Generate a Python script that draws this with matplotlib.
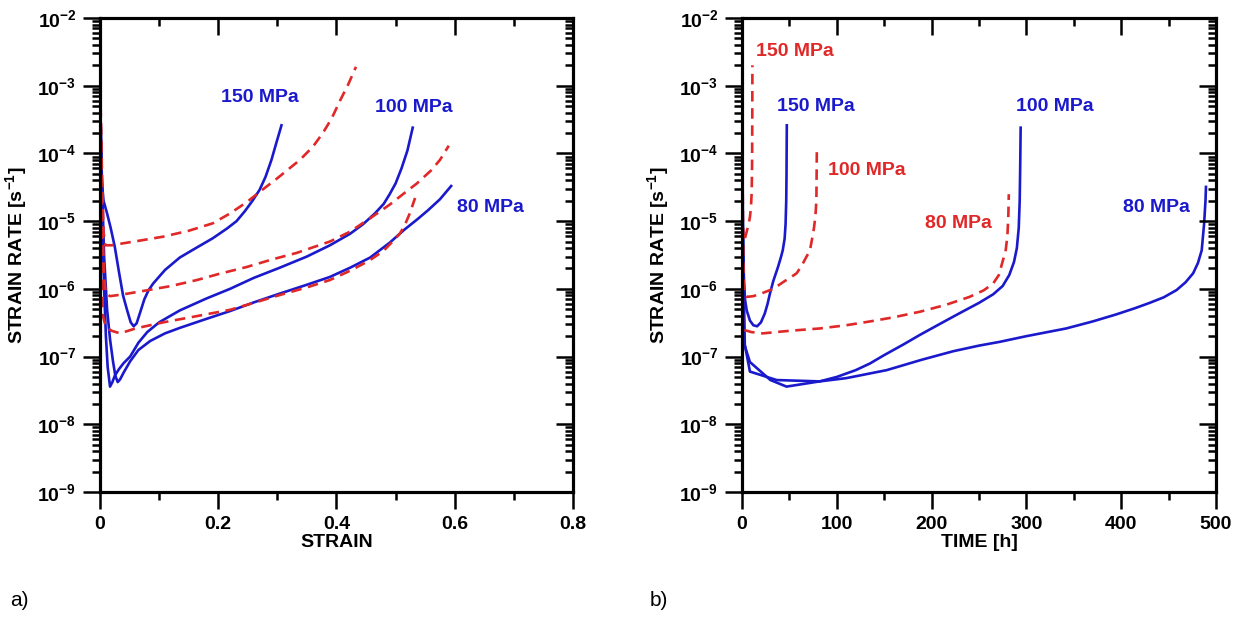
import numpy as np
import matplotlib
matplotlib.use('Agg')
import matplotlib.pyplot as plt
from matplotlib.ticker import LogLocator, NullFormatter, MultipleLocator, FuncFormatter

# --- data ---
# a) strain rate vs strain
b150_strain = [0.0, 0.001, 0.003, 0.006, 0.012, 0.018, 0.025, 0.032, 0.039, 0.046, 0.052, 0.057, 0.062, 0.068,
               0.075, 0.082, 0.09, 0.11, 0.135, 0.16, 0.191, 0.215, 0.231, 0.245, 0.258, 0.27, 0.28, 0.29, 0.298, 0.307]
b150_rate = [1.1e-3, 2e-4, 4e-5, 2e-5, 1.3e-5, 8e-6, 4.2e-6, 1.8e-6, 8e-7, 4.8e-7, 3.2e-7, 2.8e-7, 3.1e-7, 4.5e-7,
             7e-7, 9.5e-7, 1.2e-6, 1.9e-6, 2.9e-6, 3.9e-6, 5.6e-6, 7.8e-6, 1.0e-5, 1.4e-5, 2.0e-5, 2.9e-5, 4.5e-5, 8e-5, 1.4e-4, 2.6e-4]
b100_strain = [0.0, 0.002, 0.004, 0.007, 0.01, 0.013, 0.017, 0.021, 0.025, 0.032, 0.04, 0.051, 0.065, 0.08, 0.1, 0.135,
               0.18, 0.22, 0.26, 0.304, 0.35, 0.389, 0.423, 0.445, 0.465, 0.48, 0.49, 0.50, 0.51, 0.52, 0.529]
b100_rate = [1e-3, 1e-4, 1e-5, 1e-6, 2e-7, 7e-8, 3.6e-8, 4.2e-8, 5.2e-8, 6.5e-8, 8e-8, 1.0e-7, 1.6e-7, 2.3e-7, 3.2e-7, 4.8e-7,
             7.2e-7, 1.0e-6, 1.45e-6, 2.05e-6, 3.0e-6, 4.4e-6, 6.5e-6, 9e-6, 1.3e-5, 1.8e-5, 2.5e-5, 3.6e-5, 6e-5, 1.1e-4, 2.4e-4]
b80_strain = [0.0, 0.003, 0.007, 0.012, 0.017, 0.022, 0.026, 0.03, 0.034, 0.04, 0.051, 0.065, 0.085, 0.11, 0.135, 0.18,
              0.22, 0.26, 0.304, 0.35, 0.389, 0.423, 0.457, 0.49, 0.515, 0.536, 0.555, 0.575, 0.594]
b80_rate = [1e-3, 5e-5, 3e-6, 5e-7, 1.8e-7, 8.5e-8, 5.2e-8, 4.2e-8, 4.6e-8, 5.8e-8, 8.5e-8, 1.25e-7, 1.7e-7, 2.2e-7, 2.65e-7, 3.6e-7,
            4.7e-7, 6.3e-7, 8.5e-7, 1.15e-6, 1.5e-6, 2.05e-6, 2.9e-6, 4.8e-6, 7.5e-6, 1.05e-5, 1.45e-5, 2.1e-5, 3.3e-5]

r150_strain = [0.0, 0.002, 0.004, 0.006, 0.009, 0.02, 0.039, 0.07, 0.107, 0.15, 0.191, 0.22, 0.248, 0.27, 0.3, 0.338,
               0.36, 0.377, 0.392, 0.406, 0.42, 0.433]
r150_rate = [1.6e-3, 2e-4, 3e-5, 7e-6, 4.4e-6, 4.4e-6, 4.7e-6, 5.2e-6, 5.9e-6, 7.2e-6, 9.3e-6, 1.3e-5, 1.9e-5, 2.7e-5, 4.3e-5, 8e-5,
             1.25e-4, 2e-4, 3.3e-4, 6e-4, 1.05e-3, 1.9e-3]
r100_strain = [0.0, 0.002, 0.004, 0.007, 0.01, 0.017, 0.04, 0.079, 0.12, 0.164, 0.2, 0.248, 0.29, 0.333, 0.389, 0.423,
               0.46, 0.49, 0.515, 0.536, 0.56, 0.575, 0.59]
r100_rate = [1.5e-3, 1e-4, 1e-5, 1.5e-6, 8.5e-7, 7.8e-7, 8.3e-7, 9.5e-7, 1.1e-6, 1.35e-6, 1.65e-6, 2.1e-6, 2.7e-6, 3.4e-6, 5.0e-6, 7.0e-6,
             1.15e-5, 1.75e-5, 2.6e-5, 3.6e-5, 5.6e-5, 8e-5, 1.3e-4]
r80_strain = [0.0, 0.002, 0.003, 0.005, 0.01, 0.02, 0.034, 0.06, 0.107, 0.16, 0.22, 0.26, 0.304, 0.35, 0.389, 0.423,
              0.455, 0.479, 0.495, 0.507, 0.515, 0.524, 0.533]
r80_rate = [1.5e-3, 5e-5, 3e-6, 4e-7, 2.7e-7, 2.4e-7, 2.2e-7, 2.6e-7, 3.2e-7, 3.9e-7, 4.9e-7, 6.2e-7, 8.1e-7, 1.05e-6, 1.35e-6, 1.85e-6,
            2.6e-6, 3.6e-6, 5e-6, 6.5e-6, 8.5e-6, 1.3e-5, 2.2e-5]

# b) strain rate vs time [h]
b150_time = [0.0, 0.5, 1.0, 2.0, 3.2, 5, 8.4, 12, 16, 20, 24, 27, 29.5, 33, 38, 41, 43, 45, 46, 46.7, 47, 47.3]
b150_trate = [1.1e-3, 1e-4, 1e-5, 1.5e-6, 7e-7, 4.8e-7, 3.4e-7, 2.9e-7, 2.8e-7, 3.2e-7, 4.3e-7, 6e-7, 8.5e-7, 1.3e-6, 2.1e-6,
              2.9e-6, 3.7e-6, 5.5e-6, 9e-6, 2e-5, 5e-5, 2.6e-4]
b100_time = [0.0, 1.0, 2.5, 8.4, 30, 47, 82, 100, 120, 135, 150, 170, 188, 210, 230, 250, 265, 275, 282, 287, 290, 292,
             293, 293.5, 294]
b100_trate = [1.1e-3, 3e-6, 1.5e-7, 8.3e-8, 4.5e-8, 3.6e-8, 4.3e-8, 5e-8, 6.3e-8, 7.9e-8, 1.05e-7, 1.5e-7, 2.1e-7, 3.1e-7,
              4.4e-7, 6.2e-7, 8.3e-7, 1.1e-6, 1.6e-6, 2.5e-6, 4e-6, 8e-6, 2e-5, 6e-5, 2.4e-4]
b80_time = [0.0, 1.0, 3.0, 8.4, 36.6, 82, 110, 152.6, 190, 223, 250, 272, 300, 342, 370, 395, 415, 430, 445, 458.5, 468,
            476, 481, 485, 487.5, 489, 489.5]
b80_trate = [1e-3, 3e-6, 1.5e-7, 6e-8, 4.5e-8, 4.3e-8, 4.8e-8, 6.3e-8, 9e-8, 1.2e-7, 1.45e-7, 1.65e-7, 2e-7, 2.6e-7, 3.3e-7,
             4.2e-7, 5.2e-7, 6.2e-7, 7.5e-7, 9.6e-7, 1.25e-6, 1.7e-6, 2.4e-6, 3.7e-6, 9e-6, 2e-5, 3.2e-5]

r150_time = [0.0, 0.3, 0.7, 1.5, 3, 5, 7, 8.4, 9.5, 10.3, 10.7, 10.9, 11]
r150_trate = [1.5e-3, 1e-4, 1e-5, 5e-6, 5.5e-6, 7e-6, 9e-6, 1.15e-5, 1.6e-5, 2.8e-5, 8e-5, 4e-4, 2e-3]
r100_time = [0.0, 1.0, 2.0, 5, 12, 20, 33, 45, 52, 57.7, 63, 67, 71.7, 74, 76, 77.5, 78.5, 79]
r100_trate = [1.5e-3, 1e-5, 9e-7, 7.6e-7, 7.8e-7, 8.5e-7, 1e-6, 1.3e-6, 1.5e-6, 1.7e-6, 2.2e-6, 2.8e-6, 3.7e-6, 5.5e-6,
              8e-6, 1.2e-5, 2e-5, 1.2e-4]
r80_time = [0.0, 0.5, 1.0, 10, 22, 50, 82, 110, 135, 160, 188, 215, 240, 255, 265, 271, 275.5, 278, 280, 281, 281.5]
r80_trate = [1.5e-3, 1e-5, 2.5e-7, 2.3e-7, 2.2e-7, 2.4e-7, 2.6e-7, 2.9e-7, 3.3e-7, 3.8e-7, 4.6e-7, 5.8e-7, 7.6e-7, 9.5e-7,
             1.2e-6, 1.6e-6, 2.7e-6, 3.5e-6, 6e-6, 1.2e-5, 2.5e-5]

decades = [-9, -8, -7, -6, -5, -4, -3, -2]

BLUE = '#1a1acc'
RED = '#e02828'

plt.rcParams['font.family'] = 'Liberation Sans'
plt.rcParams['font.weight'] = 'bold'
plt.rcParams['mathtext.fontset'] = 'custom'
plt.rcParams['mathtext.rm'] = 'Liberation Sans:bold'
plt.rcParams['mathtext.bf'] = 'Liberation Sans:bold'
plt.rcParams['mathtext.it'] = 'Liberation Sans:bold:italic'

FS = 14

fig = plt.figure(figsize=(12.42, 6.18), dpi=100)
ax1 = fig.add_axes([0.0805, 0.2039, 0.3808, 0.767])
ax2 = fig.add_axes([0.5974, 0.2039, 0.3816, 0.767])


def style_axes(ax, xlim, xmajor, xminor, xlabel):
    ax.set_yscale('log')
    ax.set_ylim(1e-9, 1e-2)
    ax.set_xlim(*xlim)
    ax.set_yticks([10.0 ** d for d in decades],
                  labels=[r'$10^{%d}$' % d for d in decades])
    ax.yaxis.set_minor_locator(LogLocator(base=10, subs=np.arange(2, 10)))
    ax.yaxis.set_minor_formatter(NullFormatter())
    ax.xaxis.set_major_locator(MultipleLocator(xmajor))
    ax.xaxis.set_minor_locator(MultipleLocator(xminor))
    for s in ax.spines.values():
        s.set_linewidth(2.2)
    ax.tick_params(which='both', direction='out', width=1.8, labelsize=FS,
                   top=False, right=False)
    ax.tick_params(which='major', length=12, pad=5)
    ax.tick_params(which='minor', length=6)
    ax.set_xlabel(xlabel, fontsize=FS, fontweight='bold', labelpad=1)
    ax.set_ylabel(r'STRAIN RATE [s$^{-1}$]', fontsize=FS, fontweight='bold')
    ax.yaxis.set_label_coords(-0.15, 0.5)

    # mirrored ticks pointing inward on top and right
    axt = ax.twiny()
    axt.set_xlim(*xlim)
    axt.xaxis.set_major_locator(MultipleLocator(xmajor))
    axt.xaxis.set_minor_locator(MultipleLocator(xminor))
    axt.tick_params(which='both', direction='in', width=1.8, labeltop=False)
    axt.tick_params(which='major', length=12)
    axt.tick_params(which='minor', length=6)
    axr = ax.twinx()
    axr.set_yscale('log')
    axr.set_ylim(1e-9, 1e-2)
    axr.set_yticks([10.0 ** d for d in decades])
    axr.yaxis.set_minor_locator(LogLocator(base=10, subs=np.arange(2, 10)))
    axr.yaxis.set_minor_formatter(NullFormatter())
    axr.tick_params(which='both', direction='in', width=1.8, labelright=False)
    axr.tick_params(which='major', length=12)
    axr.tick_params(which='minor', length=6)
    for a in (axt, axr):
        for s in a.spines.values():
            s.set_linewidth(2.2)


style_axes(ax1, (0, 0.8), 0.2, 0.1, 'STRAIN')
style_axes(ax2, (0, 500), 100, 50, 'TIME [h]')

ax1.xaxis.set_major_formatter(FuncFormatter(lambda v, p: '0' if v == 0 else ('%.1f' % v)))

solid = dict(color=BLUE, lw=1.9)
dash = dict(color=RED, lw=1.9, dashes=(4, 2.5))

ax1.plot(b150_strain, b150_rate, **solid)
ax1.plot(b100_strain, b100_rate, **solid)
ax1.plot(b80_strain, b80_rate, **solid)
ax1.plot(r150_strain, r150_rate, **dash)
ax1.plot(r100_strain, r100_rate, **dash)
ax1.plot(r80_strain, r80_rate, **dash)

ax2.plot(b150_time, b150_trate, **solid)
ax2.plot(b100_time, b100_trate, **solid)
ax2.plot(b80_time, b80_trate, **solid)
ax2.plot(r150_time, r150_trate, **dash)
ax2.plot(r100_time, r100_trate, **dash)
ax2.plot(r80_time, r80_trate, **dash)

lab = dict(fontsize=FS, fontweight='bold', ha='center', va='center')
ax1.text(0.27, 6.7e-4, '150 MPa', color=BLUE, **lab)
ax1.text(0.531, 4.7e-4, '100 MPa', color=BLUE, **lab)
ax1.text(0.66, 1.6e-5, '80 MPa', color=BLUE, **lab)

ax2.text(56, 3.2e-3, '150 MPa', color=RED, **lab)
ax2.text(78, 4.9e-4, '150 MPa', color=BLUE, **lab)
ax2.text(132, 5.6e-5, '100 MPa', color=RED, **lab)
ax2.text(228, 9.3e-6, '80 MPa', color=RED, **lab)
ax2.text(330, 4.9e-4, '100 MPa', color=BLUE, **lab)
ax2.text(437, 1.6e-5, '80 MPa', color=BLUE, **lab)

fig.text(0.008, 0.028, 'a)', fontsize=15, fontweight='normal', va='center')
fig.text(0.523, 0.028, 'b)', fontsize=15, fontweight='normal', va='center')

fig.savefig('out.png', dpi=100)
